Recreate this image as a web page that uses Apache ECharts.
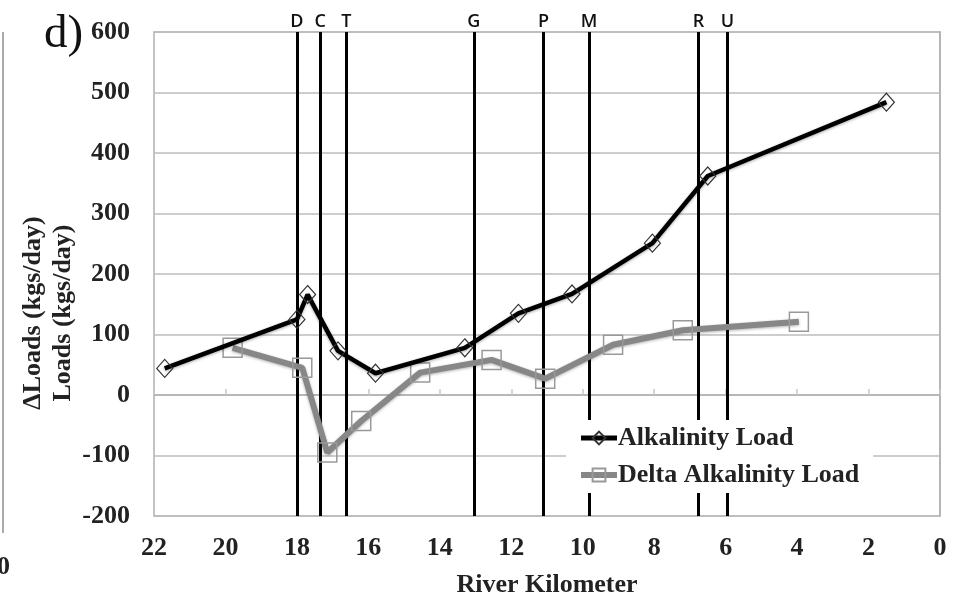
<!DOCTYPE html>
<html><head><meta charset="utf-8">
<script src="https://cdn.jsdelivr.net/npm/echarts@6/dist/echarts.min.js"></script>
<style>html,body{margin:0;padding:0;background:#fff}#c{width:956px;height:601px}</style>
</head><body><div id="c"></div>
<script>
// River kilometers and loads (kgs/day)
const alkKm   = [21.7, 18.0, 17.7, 16.85, 15.8, 13.3, 11.8, 10.3, 8.05, 6.5, 1.5];
const alkLoad = [44, 125, 166, 73, 36, 78, 135, 167, 251, 362, 484];
const deltaKm   = [19.8, 17.85, 17.15, 16.2, 14.55, 12.55, 11.05, 9.15, 7.2, 3.95];
const deltaLoad = [78, 45, -95, -43, 37, 58, 27, 83, 107, 121];
const siteNames = ['D', 'C', 'T', 'G', 'P', 'M', 'R', 'U'];
const siteKm    = [18.0, 17.35, 16.62, 13.05, 11.1, 9.82, 6.76, 5.95];
const seriesNames = ['Alkalinity Load', 'Delta Alkalinity Load'];

const serif = '"Liberation Serif", "Times New Roman", serif';
const chart = echarts.init(document.getElementById('c'), null, {renderer: 'canvas'});
chart.setOption({
  animation: false,
  backgroundColor: '#fff',
  grid: {left: 154, right: 16, top: 32, bottom: 85, outerBoundsMode: 'none', containLabel: false,
    show: true, borderColor: '#b0b0b0', borderWidth: 1.5},
  xAxis: {
    type: 'value', min: 0, max: 22, interval: 2, inverse: true,
    name: 'River Kilometer', nameLocation: 'middle', nameGap: 56,
    nameTextStyle: {fontFamily: serif, fontWeight: 'bold', fontSize: 26, color: '#222'},
    axisLine: {show: true, lineStyle: {color: '#b0b0b0', width: 1.5}},
    axisTick: {show: true, inside: true, length: 6, lineStyle: {color: '#c8c8c8', width: 1.5}},
    axisLabel: {fontFamily: serif, fontWeight: 'bold', fontSize: 26, color: '#222', margin: 19},
    splitLine: {show: false}
  },
  yAxis: {
    type: 'value', min: -200, max: 600, interval: 100,
    axisLine: {show: true, lineStyle: {color: '#b0b0b0', width: 1.5}},
    axisTick: {show: false},
    axisLabel: {fontFamily: serif, fontWeight: 'bold', fontSize: 26, color: '#222', margin: 24},
    splitLine: {show: true, lineStyle: {color: '#bdbdbd', width: 1.5}}
  },
  legend: {
    orient: 'vertical', left: 566, top: 420, z: 10,
    backgroundColor: '#fff', padding: [5, 14, 5, 12], itemGap: 11,
    itemWidth: 36, itemHeight: 16,
    textStyle: {fontFamily: serif, fontWeight: 'bold', fontSize: 26, color: '#222', padding: [0, 0, 0, -4]},
    data: [
      {name: seriesNames[0], lineStyle: {width: 5}},
      {name: seriesNames[1], lineStyle: {width: 6}}
    ]
  },
  series: [
    {
      type: 'line', name: 'sites', data: [], z: 1, silent: true,
      markLine: {
        z: 1,
        silent: true, symbol: 'none', animation: false,
        lineStyle: {color: '#000', width: 3, type: 'solid'},
        label: {show: true, position: 'end', formatter: '{b}', distance: 1,
          fontFamily: '"Open Sans", "DejaVu Sans", sans-serif', fontWeight: 600, fontSize: 18, color: '#111'},
        emphasis: {disabled: true},
        data: siteKm.map((v, i) => ({xAxis: v, name: siteNames[i]}))
      }
    },
    {
      type: 'line', name: seriesNames[0], z: 4,
      data: alkKm.map((v, i) => [v, alkLoad[i]]),
      symbol: 'diamond', symbolSize: [16, 18],
      lineStyle: {color: '#000', width: 4.5, shadowColor: 'rgba(0,0,0,0.35)', shadowBlur: 3, shadowOffsetY: 1},
      itemStyle: {color: 'rgba(255,255,255,0)', borderColor: '#333', borderWidth: 1.2}
    },
    {
      type: 'line', name: seriesNames[1], z: 3,
      data: deltaKm.map((v, i) => [v, deltaLoad[i]]),
      symbol: 'rect', symbolSize: 19,
      lineStyle: {color: '#878787', width: 6, shadowColor: 'rgba(0,0,0,0.3)', shadowBlur: 3, shadowOffsetY: 1},
      itemStyle: {color: 'rgba(255,255,255,0)', borderColor: '#999', borderWidth: 1.5}
    }
  ],
  graphic: [
    {type: 'text', left: 44, top: 11, style: {text: 'd)', font: '47px ' + serif, fill: '#111'}},
    {type: 'text', x: 48, y: 313, rotation: Math.PI / 2,
      style: {text: '\u0394Loads (kgs/day)\nLoads (kgs/day)', font: 'bold 26px ' + serif, fill: '#222',
        align: 'center', verticalAlign: 'middle', lineHeight: 30}},
    {type: 'line', shape: {x1: 3, y1: 32, x2: 3, y2: 533}, style: {stroke: '#aaa', lineWidth: 2}},
    {type: 'text', x: 10, y: 567, style: {text: '0', font: 'bold 26px ' + serif, fill: '#222', align: 'right', verticalAlign: 'middle'}}
  ]
});
</script></body></html>
